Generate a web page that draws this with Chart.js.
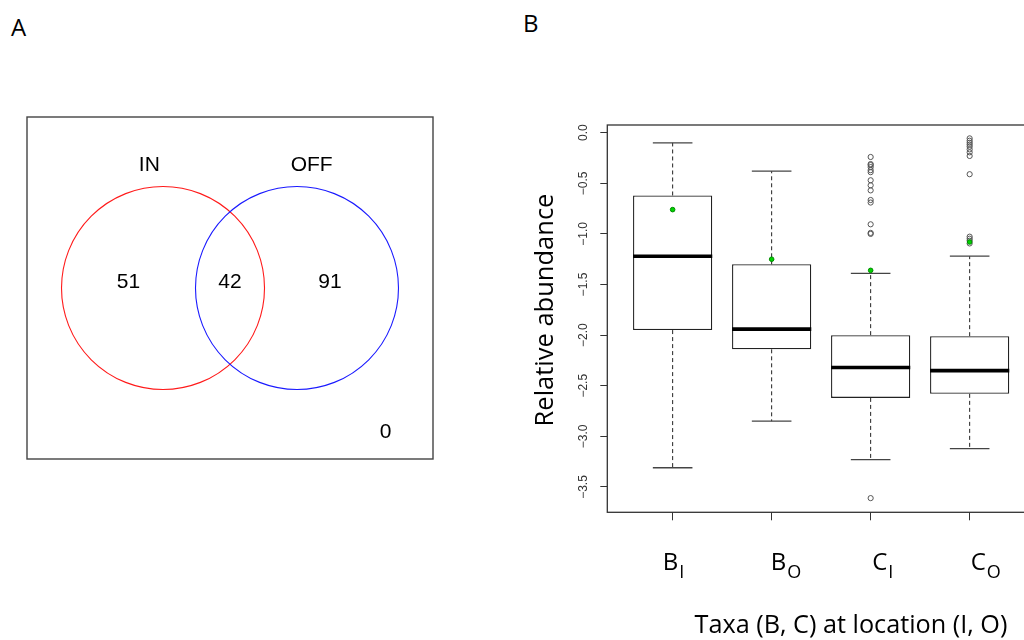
<!DOCTYPE html>
<html><head><meta charset="utf-8">
<script src="https://cdn.jsdelivr.net/npm/chart.js@4.4.0/dist/chart.umd.min.js"></script>
<style>
html,body{margin:0;padding:0;width:1024px;height:640px;overflow:hidden;background:#fff;}
canvas{position:absolute;}
.lab{position:absolute;font-family:"Open Sans";font-size:24px;line-height:24px;color:#000;}
</style></head><body>
<div class="lab" style="left:11px;top:15px">A</div>
<div class="lab" style="left:523px;top:11px">B</div>
<canvas id="venn" width="460" height="400" style="left:0;top:90px"></canvas>
<canvas id="box" width="520" height="540" style="left:520px;top:100px"></canvas>
<script>
// ---------- Panel A data (Venn) ----------
const vennSetNames = ['IN', 'OFF'];
const vennCounts = [51, 42, 91];      // IN only, both, OFF only
const vennOutside = 0;

// ---------- Panel B data (box plots) ----------
const tickMain = ['B', 'B', 'C', 'C'];
const tickSub = ['I', 'O', 'I', 'O'];
const positions = [1, 2, 3, 4];
const whiskerLow = [-3.31, -2.85, -3.23, -3.12];
const q1 = [-1.95, -2.14, -2.62, -2.58];
const median = [-1.22, -1.94, -2.32, -2.35];
const q3 = [-0.62, -1.30, -2.00, -2.01];
const whiskerHigh = [-0.10, -0.38, -1.39, -1.22];
const means = [-0.76, -1.25, -1.36, -1.08];
const outliersBI = [];
const outliersBO = [];
const outliersCI = [-0.24, -0.31, -0.32, -0.34, -0.37, -0.39, -0.47, -0.52, -0.57, -0.665, -0.69, -0.905, -0.99, -1.00, -3.61];
const outliersCO = [-0.056, -0.079, -0.099, -0.118, -0.138, -0.165, -0.194, -0.23, -0.41, -1.027, -1.047, -1.067, -1.094];
const yTickValues = [0, -0.5, -1, -1.5, -2, -2.5, -3, -3.5];
const yTickLabels = ['0.0', '\u22120.5', '\u22121.0', '\u22121.5', '\u22122.0', '\u22122.5', '\u22123.0', '\u22123.5'];
const yTitle = 'Relative abundance';
const xTitle = 'Taxa (B, C) at location (I, O)';

// ---------- Venn chart ----------
const vennGeom = { centers: [[-0.66, 0], [0.66, 0]], radius: 1, colors: ['#ff1a1a', '#1a1aff'] };
const vennPlugin = {
  id: 'venn',
  afterDraw(chart) {
    const { ctx, chartArea: a, scales: { x, y } } = chart;
    ctx.save();
    ctx.strokeStyle = '#444'; ctx.lineWidth = 1.4;
    ctx.strokeRect(a.left, a.top, a.right - a.left, a.bottom - a.top);
    vennGeom.centers.forEach((c, i) => {
      const cx = x.getPixelForValue(c[0]), cy = y.getPixelForValue(c[1]);
      const r = x.getPixelForValue(c[0] + vennGeom.radius) - cx;
      ctx.beginPath(); ctx.arc(cx, cy, r, 0, Math.PI * 2);
      ctx.strokeStyle = vennGeom.colors[i]; ctx.lineWidth = 1.1; ctx.stroke();
    });
    ctx.fillStyle = '#000';
    ctx.font = '21px "Liberation Sans", Arial, sans-serif';
    ctx.textAlign = 'center'; ctx.textBaseline = 'middle';
    const namePos = [[-0.795, 1.204], [0.805, 1.204]];
    vennSetNames.forEach((n, i) => ctx.fillText(n, x.getPixelForValue(namePos[i][0]), y.getPixelForValue(namePos[i][1])));
    const countPos = [[-1.0, 0.06], [0.0, 0.06], [0.985, 0.06]];
    vennCounts.forEach((n, i) => ctx.fillText(String(n), x.getPixelForValue(countPos[i][0]), y.getPixelForValue(countPos[i][1])));
    ctx.fillText(String(vennOutside), x.getPixelForValue(1.534), y.getPixelForValue(-1.416));
    ctx.restore();
  }
};
new Chart(document.getElementById('venn'), {
  type: 'scatter',
  data: { datasets: [] },
  options: {
    responsive: false, animation: false, events: [],
    layout: { padding: { left: 27, top: 27, right: 27, bottom: 31 } },
    plugins: { legend: { display: false }, tooltip: { enabled: false } },
    scales: {
      x: { type: 'linear', min: -2, max: 2, display: false },
      y: { type: 'linear', min: -1.675, max: 1.675, display: false }
    }
  },
  plugins: [vennPlugin]
});

// ---------- Box plot chart ----------
const pts = vals => vals.map((v, i) => ({ x: positions[i], y: v }));
const outlierGroups = [outliersBI, outliersBO, outliersCI, outliersCO];
const outlierPts = [];
outlierGroups.forEach((arr, i) => arr.forEach(v => outlierPts.push({ x: positions[i], y: v })));
const whiskerPts = [];
positions.forEach((p, i) => {
  whiskerPts.push({ x: p, y: q3[i] }, { x: p, y: whiskerHigh[i] }, { x: p, y: null },
                  { x: p, y: q1[i] }, { x: p, y: whiskerLow[i] }, { x: p, y: null });
});
const halfPx = (chart, units) => chart.scales.x.getPixelForValue(units) - chart.scales.x.getPixelForValue(0);

const boxText = {
  id: 'boxText',
  afterDraw(chart) {
    const { ctx, chartArea: a, scales: { x, y } } = chart;
    ctx.save();
    ctx.strokeStyle = '#333'; ctx.lineWidth = 1.3;
    ctx.strokeRect(a.left, a.top, a.right - a.left, a.bottom - a.top);
    // y tick labels (rotated, R style)
    ctx.fillStyle = '#333';
    ctx.font = '12px "Liberation Sans", Arial, sans-serif';
    ctx.textAlign = 'center'; ctx.textBaseline = 'middle';
    y.ticks.forEach((t, i) => {
      ctx.save();
      ctx.translate(a.left - 23.3, y.getPixelForValue(t.value));
      ctx.rotate(-Math.PI / 2);
      ctx.fillText(yTickLabels[i], 0, 0);
      ctx.restore();
    });
    // x tick labels with subscripts
    ctx.fillStyle = '#000';
    ctx.textAlign = 'left'; ctx.textBaseline = 'alphabetic';
    const offs = [-10, -1, 1.5, 1];
    positions.forEach((p, i) => {
      const lx = x.getPixelForValue(p) + offs[i];
      ctx.font = '24px "Open Sans", sans-serif';
      ctx.fillText(tickMain[i], lx, a.bottom + 57.7);
      const w = ctx.measureText(tickMain[i]).width;
      ctx.font = '18px "Open Sans", sans-serif';
      ctx.fillText(tickSub[i], lx + w + 1, a.bottom + 65.3);
    });
    // fitted titles
    const fit = (text, target) => {
      ctx.font = '100px "Open Sans", sans-serif';
      return 100 * target / ctx.measureText(text).width;
    };
    ctx.textAlign = 'center';
    ctx.font = fit(xTitle, 313) + 'px "Open Sans", sans-serif';
    ctx.fillText(xTitle, 331, a.bottom + 120.7);
    const fy = fit(yTitle, 233);
    ctx.font = fy + 'px "Open Sans", sans-serif';
    ctx.save();
    ctx.translate(a.left - 54, 210);
    ctx.rotate(-Math.PI / 2);
    ctx.fillText(yTitle, 0, 0);
    ctx.restore();
    ctx.restore();
  }
};

new Chart(document.getElementById('box'), {
  type: 'bar',
  data: {
    datasets: [
      { type: 'line', label: 'mean', data: pts(means), showLine: false, order: 0,
        pointRadius: 2.3, pointBackgroundColor: '#00d400', pointBorderColor: '#008a00', pointBorderWidth: 1 },
      { type: 'line', label: 'outliers', data: outlierPts, showLine: false, order: 1,
        pointRadius: 2.6, pointBackgroundColor: 'rgba(0,0,0,0)', pointBorderColor: '#555', pointBorderWidth: 1 },
      { type: 'line', label: 'median', data: pts(median), showLine: false, order: 2,
        pointStyle: 'line', pointRadius: c => halfPx(c.chart, 0.4), pointBorderColor: '#000', pointBorderWidth: 3.6 },
      { type: 'line', label: 'capHigh', data: pts(whiskerHigh), showLine: false, order: 2,
        pointStyle: 'line', pointRadius: c => halfPx(c.chart, 0.2), pointBorderColor: '#444', pointBorderWidth: 1.3 },
      { type: 'line', label: 'capLow', data: pts(whiskerLow), showLine: false, order: 2,
        pointStyle: 'line', pointRadius: c => halfPx(c.chart, 0.2), pointBorderColor: '#444', pointBorderWidth: 1.3 },
      { type: 'line', label: 'whiskers', data: whiskerPts, spanGaps: false, order: 3,
        borderColor: '#222', borderWidth: 1, borderDash: [4, 3], pointRadius: 0, fill: false },
      { type: 'bar', label: 'box', data: positions.map((p, i) => ({ x: p, y: [q1[i], q3[i]] })), order: 4,
        backgroundColor: '#fff', borderColor: '#222', borderWidth: 1.3, borderSkipped: false,
        barPercentage: 1, categoryPercentage: 0.8 }
    ]
  },
  options: {
    responsive: false, animation: false, events: [],
    layout: { padding: { top: 25, right: 5, left: 0, bottom: 0 } },
    plugins: { legend: { display: false }, tooltip: { enabled: false } },
    scales: {
      x: {
        type: 'linear', min: 0.34, max: 4.66, offset: false,
        grid: { offset: false, drawOnChartArea: false, drawTicks: true, tickLength: 8, color: '#333', lineWidth: 1 },
        border: { display: false },
        ticks: { display: false },
        afterBuildTicks: s => { s.ticks = positions.map(v => ({ value: v })); },
        afterFit: s => { s.height = 127.7; }
      },
      y: {
        type: 'linear', min: -3.75, max: 0.076, beginAtZero: false,
        grid: { drawOnChartArea: false, drawTicks: true, tickLength: 7, color: '#333', lineWidth: 1 },
        border: { display: false },
        ticks: { display: false },
        afterBuildTicks: s => { s.ticks = yTickValues.map(v => ({ value: v })); },
        afterFit: s => { s.width = 87.3; }
      }
    }
  },
  plugins: [boxText]
});
</script></body></html>
